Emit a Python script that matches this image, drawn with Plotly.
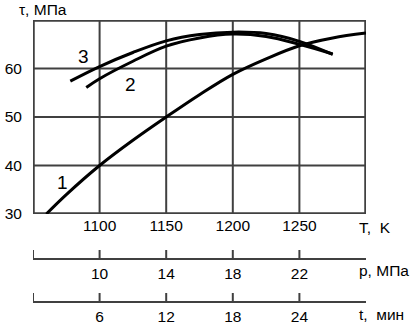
import plotly.graph_objects as go

# Curve 1
T1 = [1060, 1075, 1100, 1125, 1150, 1175, 1200, 1225, 1250, 1275, 1300]
tau1 = [30.0, 34.0, 40.0, 45.2, 50.0, 54.6, 58.8, 62.0, 64.7, 66.3, 67.3]
# Curve 2
T2 = [1090, 1100, 1125, 1150, 1175, 1200, 1225, 1250, 1275]
tau2 = [56.1, 57.9, 61.5, 64.6, 66.3, 67.1, 66.6, 65.0, 63.0]
# Curve 3
T3 = [1078, 1100, 1125, 1150, 1175, 1200, 1225, 1250, 1275]
tau3 = [57.4, 60.4, 63.3, 65.7, 67.0, 67.5, 67.2, 65.6, 62.9]

T_range = [1050, 1300]
tau_range = [30, 70]
T_ticks = [1100, 1150, 1200, 1250]
tau_ticks = [30, 40, 50, 60]
p_range = [6, 26]
p_ticks = [6, 10, 14, 18, 22]
p_labels = ["", "10", "14", "18", "22"]
t_range = [0, 30]
t_ticks = [0, 6, 12, 18, 24]
t_labels = ["", "6", "12", "18", "24"]

FONT = "Liberation Sans, Arial, sans-serif"
FS = 15.5
W, H = 418, 324
ML, MR, MT, MB = 33, 52, 20, 0
PH = H - MT - MB
PW = W - ML - MR
LINE = "#404040"


def py(pix):
    return (H - MB - pix) / PH


def px(pix):
    return (pix - ML) / PW


fig = go.Figure()

# grid of the main panel, one trace per line, built from the tick lists and ranges
for v in T_ticks:
    fig.add_trace(go.Scatter(x=[v, v], y=tau_range, mode="lines", line=dict(color=LINE, width=2),
                             showlegend=False, hoverinfo="skip"))
for v in tau_ticks[1:]:
    fig.add_trace(go.Scatter(x=T_range, y=[v, v], mode="lines", line=dict(color=LINE, width=2),
                             showlegend=False, hoverinfo="skip"))
# frame (half of the width is clipped at the edge of the panel)
fx = [T_range[0], T_range[1], T_range[1], T_range[0], T_range[0]]
fy = [tau_range[0], tau_range[0], tau_range[1], tau_range[1], tau_range[0]]
fig.add_trace(go.Scatter(x=fx, y=fy, mode="lines", line=dict(color=LINE, width=3.5),
                         showlegend=False, hoverinfo="skip"))

for T, tau in [(T1, tau1), (T2, tau2), (T3, tau3)]:
    fig.add_trace(go.Scatter(x=T, y=tau, mode="lines", line=dict(color="black", width=3, shape="spline"),
                             showlegend=False, hoverinfo="skip"))

# tick marks of the two extra scales
for v in p_ticks:
    fig.add_trace(go.Scatter(x=[v, v], y=[0, 1], mode="lines", line=dict(color=LINE, width=2),
                             xaxis="x2", yaxis="y2", showlegend=False, hoverinfo="skip"))
for v in t_ticks:
    fig.add_trace(go.Scatter(x=[v, v], y=[0, 1], mode="lines", line=dict(color=LINE, width=2),
                             xaxis="x3", yaxis="y3", showlegend=False, hoverinfo="skip"))

axis_common = dict(zeroline=False, automargin=False, showgrid=False,
                   tickfont=dict(size=FS, family=FONT, color="black"))
sec = dict(showline=True, linecolor=LINE, linewidth=2, ticks="", **axis_common)
hidden_y = dict(visible=False, range=[0, 1], fixedrange=True)

fig.update_layout(
    template="none",
    width=W, height=H,
    margin=dict(l=ML, r=MR, t=MT, b=MB),
    paper_bgcolor="white", plot_bgcolor="rgba(0,0,0,0)",
    font=dict(family=FONT, size=FS, color="black"),
    xaxis=dict(range=T_range, tickvals=T_ticks, showline=False, ticks="", anchor="y", **axis_common),
    yaxis=dict(range=tau_range, tickvals=tau_ticks, showline=False,
               ticks="outside", ticklen=7, tickcolor="rgba(0,0,0,0)",
               domain=[py(214), 1], anchor="x", **axis_common),
    xaxis2=dict(range=p_range, tickvals=p_ticks, ticktext=p_labels, anchor="y2", **sec),
    yaxis2=dict(domain=[py(258), py(250)], anchor="x2", **hidden_y),
    xaxis3=dict(range=t_range, tickvals=t_ticks, ticktext=t_labels, anchor="y3", **sec),
    yaxis3=dict(domain=[py(301), py(293)], anchor="x3", **hidden_y),
)

ann = [
    dict(x=px(17), y=py(10), text="τ, МПа"),
    dict(x=px(357), y=py(227), text="T,  K"),
    dict(x=px(357), y=py(270), text="p, МПа"),
    dict(x=px(357), y=py(314), text="t,  мин"),
]
for a in ann:
    fig.add_annotation(xref="paper", yref="paper", showarrow=False, yanchor="middle", xanchor="left",
                       font=dict(size=FS, family=FONT, color="black"), **a)

for txt, x, y in [("1", 1071.8, 36.5), ("2", 1122.9, 56.7), ("3", 1087.6, 62.4)]:
    fig.add_annotation(x=x, y=y, xref="x", yref="y", text=txt, showarrow=False,
                       font=dict(size=19, family=FONT, color="black"))

fig.write_html("out.html")
